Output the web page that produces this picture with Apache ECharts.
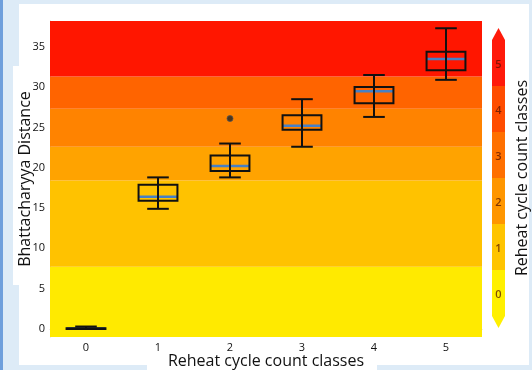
<!DOCTYPE html>
<html><head><meta charset="utf-8">
<script src="https://cdn.jsdelivr.net/npm/echarts@6/dist/echarts.min.js"></script>
<style>html,body{margin:0;padding:0;background:#DDEBF7}#c{width:532px;height:370px}</style>
</head><body><div id="c"></div>
<script>
const categories = ['0','1','2','3','4','5'];
const whiskerLow  = [0,   14.9, 18.8, 22.6, 26.3, 30.9];
const q1          = [0,   15.9, 19.6, 24.7, 28.0, 32.1];
const median      = [0.05,16.4, 20.2, 25.2, 29.5, 33.5];
const q3          = [0.1, 17.9, 21.5, 26.5, 30.0, 34.4];
const whiskerHigh = [0.3, 18.8, 23.0, 28.5, 31.5, 37.3];
const outliers = [[2, 26.1]];
const yTicks = [0, 5, 10, 15, 20, 25, 30, 35];
const bandEdges  = [-1, 7.7, 18.4, 22.6, 27.3, 31.3, 38.2];
const bandColors = ['#FFEA00', '#FFC200', '#FFA300', '#FF8300', '#FF6400', '#FF1600'];
const classLabels = ['0', '1', '2', '3', '4', '5'];
const classColors = ['#FFF000', '#FFC400', '#FF9600', '#FF7000', '#FF4C00', '#FF1A0A'];

const FONT = '"Open Sans", "Noto Sans", sans-serif';

const boxData = categories.map((c, i) => [i, whiskerLow[i], q1[i], median[i], q3[i], whiskerHigh[i]]);
const bandAreas = bandColors.map((col, i) => [
  { yAxis: bandEdges[i], itemStyle: { color: col } },
  { yAxis: bandEdges[i + 1] }
]);

function renderBox(params, api) {
  const x = api.value(0);
  const pLo = api.coord([x, api.value(1)]);
  const pQ1 = api.coord([x, api.value(2)]);
  const pMed = api.coord([x, api.value(3)]);
  const pQ3 = api.coord([x, api.value(4)]);
  const pHi = api.coord([x, api.value(5)]);
  const band = api.size([1, 0])[0];
  const hw = band * 0.27, cw = band * 0.15;
  const cx = pMed[0];
  const st = { stroke: '#111', lineWidth: 2, fill: 'transparent' };
  return { type: 'group', children: [
    { type: 'line', shape: { x1: cx - hw, y1: pMed[1], x2: cx + hw, y2: pMed[1] }, style: { stroke: '#4680C6', lineWidth: 2.5 } },
    { type: 'line', shape: { x1: cx, y1: pHi[1], x2: cx, y2: pLo[1] }, style: st },
    { type: 'line', shape: { x1: cx - cw, y1: pHi[1], x2: cx + cw, y2: pHi[1] }, style: st },
    { type: 'line', shape: { x1: cx - cw, y1: pLo[1], x2: cx + cw, y2: pLo[1] }, style: st },
    { type: 'rect', shape: { x: cx - hw, y: pQ3[1], width: 2 * hw, height: pQ1[1] - pQ3[1] }, style: st }
  ]};
}

function renderClass(params, api) {
  const i = api.value(0);
  const p0 = api.coord([0, i]);
  const p1 = api.coord([1, i + 1]);
  const col = api.visual('color');
  const xl = p0[0], xr = p1[0], yt = p1[1], yb = p0[1];
  const children = [
    { type: 'rect', shape: { x: xl, y: yt, width: xr - xl, height: yb - yt }, style: { fill: col } },
    { type: 'text', x: (xl + xr) / 2, y: (yt + yb) / 2 + 2, style: { text: classLabels[params.dataIndex], fill: 'rgba(80,15,0,0.72)', font: '600 11px ' + FONT, align: 'center', verticalAlign: 'middle' } }
  ];
  if (i === classLabels.length - 1) {
    children.push({ type: 'polygon', shape: { points: [[xl, yt], [xr, yt], [(xl + xr) / 2, yt - 12]] }, style: { fill: col } });
  }
  if (i === 0) {
    children.push({ type: 'polygon', shape: { points: [[xl, yb], [xr, yb], [(xl + xr) / 2, yb + 12]] }, style: { fill: col } });
  }
  return { type: 'group', children };
}

const chart = echarts.init(document.getElementById('c'));
chart.setOption({
  animation: false,
  backgroundColor: '#DDEBF7',
  graphic: [
    { type: 'rect', shape: { x: 0, y: 0, width: 3, height: 370 }, style: { fill: '#6E9FDC' }, z: -10 },
    { type: 'rect', shape: { x: 19, y: 4, width: 510, height: 361 }, style: { fill: '#FFFFFF' }, z: -10 },
    { type: 'rect', shape: { x: 13, y: 66, width: 8, height: 219 }, style: { fill: '#FFFFFF' }, z: -10 },
    { type: 'rect', shape: { x: 147, y: 360, width: 230, height: 10 }, style: { fill: '#FFFFFF' }, z: -10 }
  ],
  grid: [
    { left: 50, top: 21, width: 432, height: 316, outerBoundsMode: 'none', containLabel: false },
    { left: 492, top: 40, width: 13, height: 276, outerBoundsMode: 'none', containLabel: false }
  ],
  xAxis: [
    {
      type: 'category', data: categories, gridIndex: 0,
      name: 'Reheat cycle count classes', nameLocation: 'middle', nameGap: 16, nameMoveOverlap: false,
      nameTextStyle: { fontFamily: FONT, fontSize: 16, color: '#111' },
      axisLine: { show: true, lineStyle: { color: '#d0d0d0' } },
      axisTick: { show: false },
      axisLabel: { fontFamily: FONT, fontSize: 11, color: '#111', margin: 5 },
      splitLine: { show: false }
    },
    { type: 'value', gridIndex: 1, min: 0, max: 1, show: false }
  ],
  yAxis: [
    {
      type: 'value', gridIndex: 0, min: -1, max: 38.2,
      name: 'Bhattacharyya Distance', nameLocation: 'middle', nameGap: 17, nameMoveOverlap: false,
      nameTextStyle: { fontFamily: FONT, fontSize: 16, color: '#111' },
      axisLine: { show: true, lineStyle: { color: '#d0d0d0' } },
      axisTick: { show: false },
      axisLabel: { fontFamily: FONT, fontSize: 11, color: '#111', margin: 5, customValues: yTicks },
      splitLine: { show: false }
    },
    {
      type: 'value', gridIndex: 1, min: 0, max: 6, position: 'right',
      name: 'Reheat cycle count classes', nameLocation: 'middle', nameGap: 9, nameRotate: 90, nameMoveOverlap: false,
      nameTextStyle: { fontFamily: FONT, fontSize: 16, color: '#111' },
      axisLine: { show: false }, axisTick: { show: false }, axisLabel: { show: false }, splitLine: { show: false }
    }
  ],
  series: [
    {
      type: 'line', data: [], xAxisIndex: 0, yAxisIndex: 0, silent: true,
      markArea: { silent: true, data: bandAreas }
    },
    {
      type: 'custom', xAxisIndex: 0, yAxisIndex: 0, renderItem: renderBox, data: boxData, z: 5,
      encode: { x: 0, y: [1, 2, 3, 4, 5] }
    },
    {
      type: 'scatter', xAxisIndex: 0, yAxisIndex: 0, data: outliers, symbolSize: 6, z: 6,
      itemStyle: { color: '#222', borderColor: '#555', borderWidth: 1 }
    },
    {
      type: 'custom', xAxisIndex: 1, yAxisIndex: 1, renderItem: renderClass, clip: false,
      data: classLabels.map((l, i) => ({ value: [i], itemStyle: { color: classColors[i] } }))
    }
  ]
});
</script></body></html>
